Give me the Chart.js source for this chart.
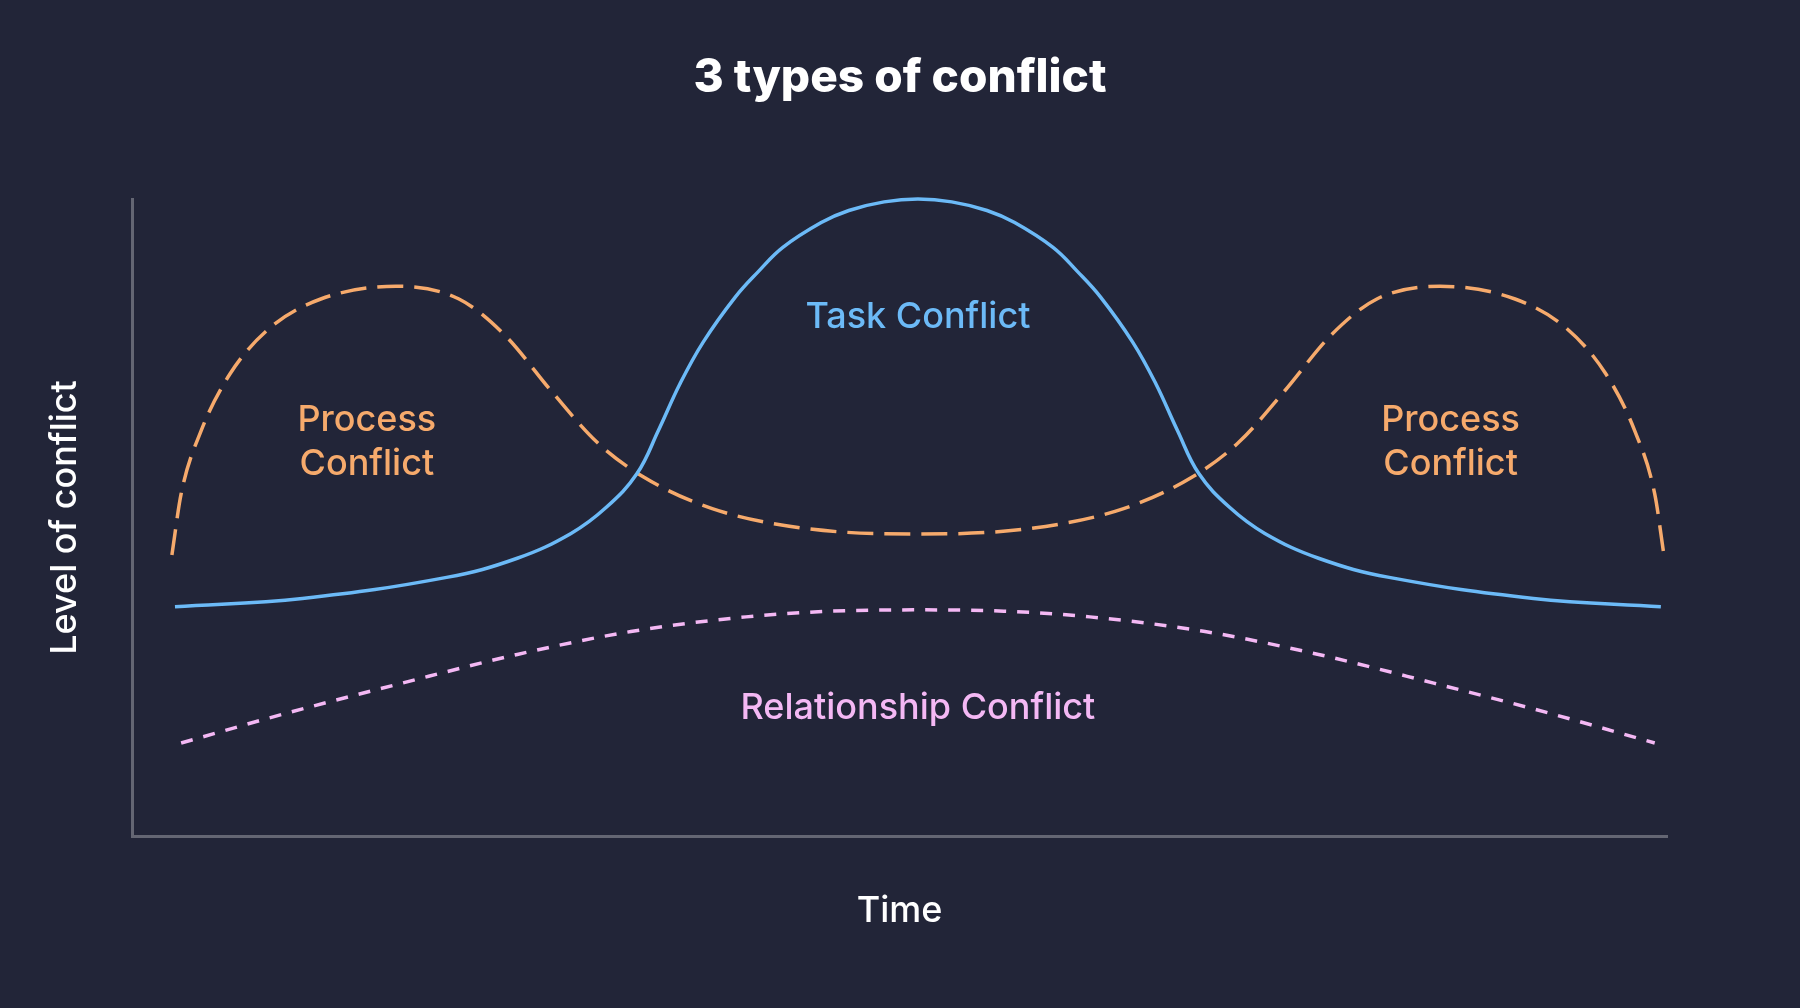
<!DOCTYPE html>
<html>
<head>
<meta charset="utf-8">
<title>3 types of conflict</title>
<script src="https://cdn.jsdelivr.net/npm/chart.js@4.4.1/dist/chart.umd.min.js"></script>
<style>
  html, body { margin: 0; padding: 0; background: #222538; }
  #wrap { width: 1800px; height: 1008px; }
</style>
</head>
<body>
<div id="wrap"><canvas id="conflictChart" width="1800" height="1008"></canvas></div>
<script>
// time runs 0-100 along the x axis, level of conflict 0-100 up the y axis
const taskTime  = [2.8, 11.1, 20.5, 25.1, 28.6, 30.9, 32.9, 34.3, 35.7, 37.2, 39.3, 40.8, 42.4, 44.9, 46.7, 49.0, 51.2,
                   53.4, 55.7, 57.5, 60.0, 61.6, 63.1, 65.2, 66.7, 68.1, 69.5, 71.5, 73.8, 77.3, 81.9, 91.3, 99.6];
const taskLevel = [36.0, 37.3, 40.6, 43.6, 47.5, 51.6, 56.9, 63.7, 71.0, 77.5, 84.6, 88.6, 92.4, 96.3, 98.2, 99.55, 100,
                   99.55, 98.2, 96.3, 92.4, 88.6, 84.6, 77.5, 71.0, 63.7, 56.9, 51.6, 47.5, 43.6, 40.6, 37.3, 36.0];

const processTime  = [2.6, 3.2, 4.5, 6.4, 9.0, 12.3, 17.2, 21.3, 24.3, 27.3, 30.3, 33.3, 37.8, 43.8, 51.2,
                      58.6, 64.6, 69.1, 72.1, 75.1, 78.1, 81.1, 85.2, 90.1, 93.4, 96.0, 97.9, 99.2, 99.8];
const processLevel = [44.1, 53.7, 63.6, 72.6, 79.8, 84.3, 86.3, 84.3, 78.6, 69.9, 61.8, 56.4, 51.4, 48.3, 47.4,
                      48.3, 51.4, 56.4, 61.8, 69.9, 78.6, 84.3, 86.3, 84.3, 79.8, 72.6, 63.6, 53.7, 44.1];

const relTime  = [3.2, 10.1, 17.6, 25.1, 32.5, 40.0, 45.6, 51.2, 56.8, 62.4, 69.9, 77.3, 84.8, 92.3, 99.2];
const relLevel = [14.6, 19.3, 24.0, 28.5, 32.1, 34.4, 35.3, 35.5, 35.3, 34.4, 32.1, 28.5, 24.0, 19.3, 14.6];

const taskColor = '#6cbaf7';
const processColor = '#f6aa6c';
const relColor = '#f4b8f4';
const axisColor = '#646673';

// in-chart labels, anchored in data units
const curveLabels = [
    { lines: ['Task Conflict'], time: 51.2, level: 81.4, color: taskColor },
    { lines: ['Process', 'Conflict'], time: 15.3, level: 61.8, color: processColor },
    { lines: ['Process', 'Conflict'], time: 85.9, level: 61.8, color: processColor },
    { lines: ['Relationship Conflict'], time: 51.2, level: 20.0, color: relColor }
];

function toPoints(xs, ys) {
    return xs.map((x, i) => ({ x, y: ys[i] }));
}

const labelPlugin = {
    id: 'curveLabels',
    afterDatasetsDraw(chart) {
        const { ctx, scales: { x, y } } = chart;
        ctx.save();
        ctx.font = "500 36px Inter, 'Noto Sans', sans-serif";
        ctx.textAlign = 'center';
        ctx.textBaseline = 'middle';
        const lineGap = 44;
        curveLabels.forEach(lbl => {
            const px = x.getPixelForValue(lbl.time);
            const py = y.getPixelForValue(lbl.level);
            const startY = py - (lbl.lines.length - 1) * lineGap / 2;
            ctx.fillStyle = lbl.color;
            lbl.lines.forEach((t, i) => ctx.fillText(t, px, startY + i * lineGap));
        });
        ctx.restore();
    }
};

const lineBase = { pointRadius: 0, borderWidth: 3.5, fill: false, cubicInterpolationMode: 'monotone', clip: false };

new Chart(document.getElementById('conflictChart').getContext('2d'), {
    type: 'line',
    data: {
        datasets: [
            // task curve uses plain bezier smoothing so the peak and the steep flanks stay round
            { ...lineBase, cubicInterpolationMode: 'default', tension: 0.4, label: 'Task Conflict',
              data: toPoints(taskTime, taskLevel), borderColor: taskColor },
            { ...lineBase, label: 'Process Conflict', data: toPoints(processTime, processLevel), borderColor: processColor, borderDash: [26, 11] },
            { ...lineBase, label: 'Relationship Conflict', data: toPoints(relTime, relLevel), borderColor: relColor, borderDash: [12, 11] }
        ]
    },
    options: {
        responsive: false,
        animation: false,
        devicePixelRatio: 1,
        plugins: {
            legend: { display: false },
            tooltip: { enabled: false },
            title: {
                display: true,
                text: '3 types of conflict',
                color: '#ffffff',
                font: { family: "Inter, 'Noto Sans', sans-serif", size: 46, weight: '800', lineHeight: 1.2 },
                padding: { top: 50.4, bottom: 93.4 }
            }
        },
        scales: {
            x: {
                type: 'linear',
                min: 0,
                max: 100,
                grid: { display: false, drawTicks: false },
                border: { display: true, color: axisColor, width: 3 },
                ticks: { display: false },
                title: {
                    display: true,
                    text: 'Time',
                    color: '#ffffff',
                    font: { family: "Inter, 'Noto Sans', sans-serif", size: 36, weight: '500', lineHeight: 1.2 },
                    padding: { top: 53.4, bottom: 75.4 }
                }
            },
            y: {
                min: 0,
                max: 100,
                grid: { display: false, drawTicks: false },
                border: { display: true, color: axisColor, width: 3 },
                ticks: { display: false },
                title: {
                    display: true,
                    text: 'Level of conflict',
                    color: '#ffffff',
                    font: { family: "Inter, 'Noto Sans', sans-serif", size: 36, weight: '500', lineHeight: 1.2 },
                    padding: { top: 43.4, bottom: 45.4 }
                }
            },
            // empty right-hand axis that only reserves the right margin
            yRight: {
                type: 'linear',
                position: 'right',
                min: 0,
                max: 100,
                grid: { display: false, drawTicks: false },
                border: { display: false },
                ticks: { display: false },
                afterFit(scale) { scale.width = 133; }
            }
        }
    },
    plugins: [labelPlugin]
});
</script>
</body>
</html>
